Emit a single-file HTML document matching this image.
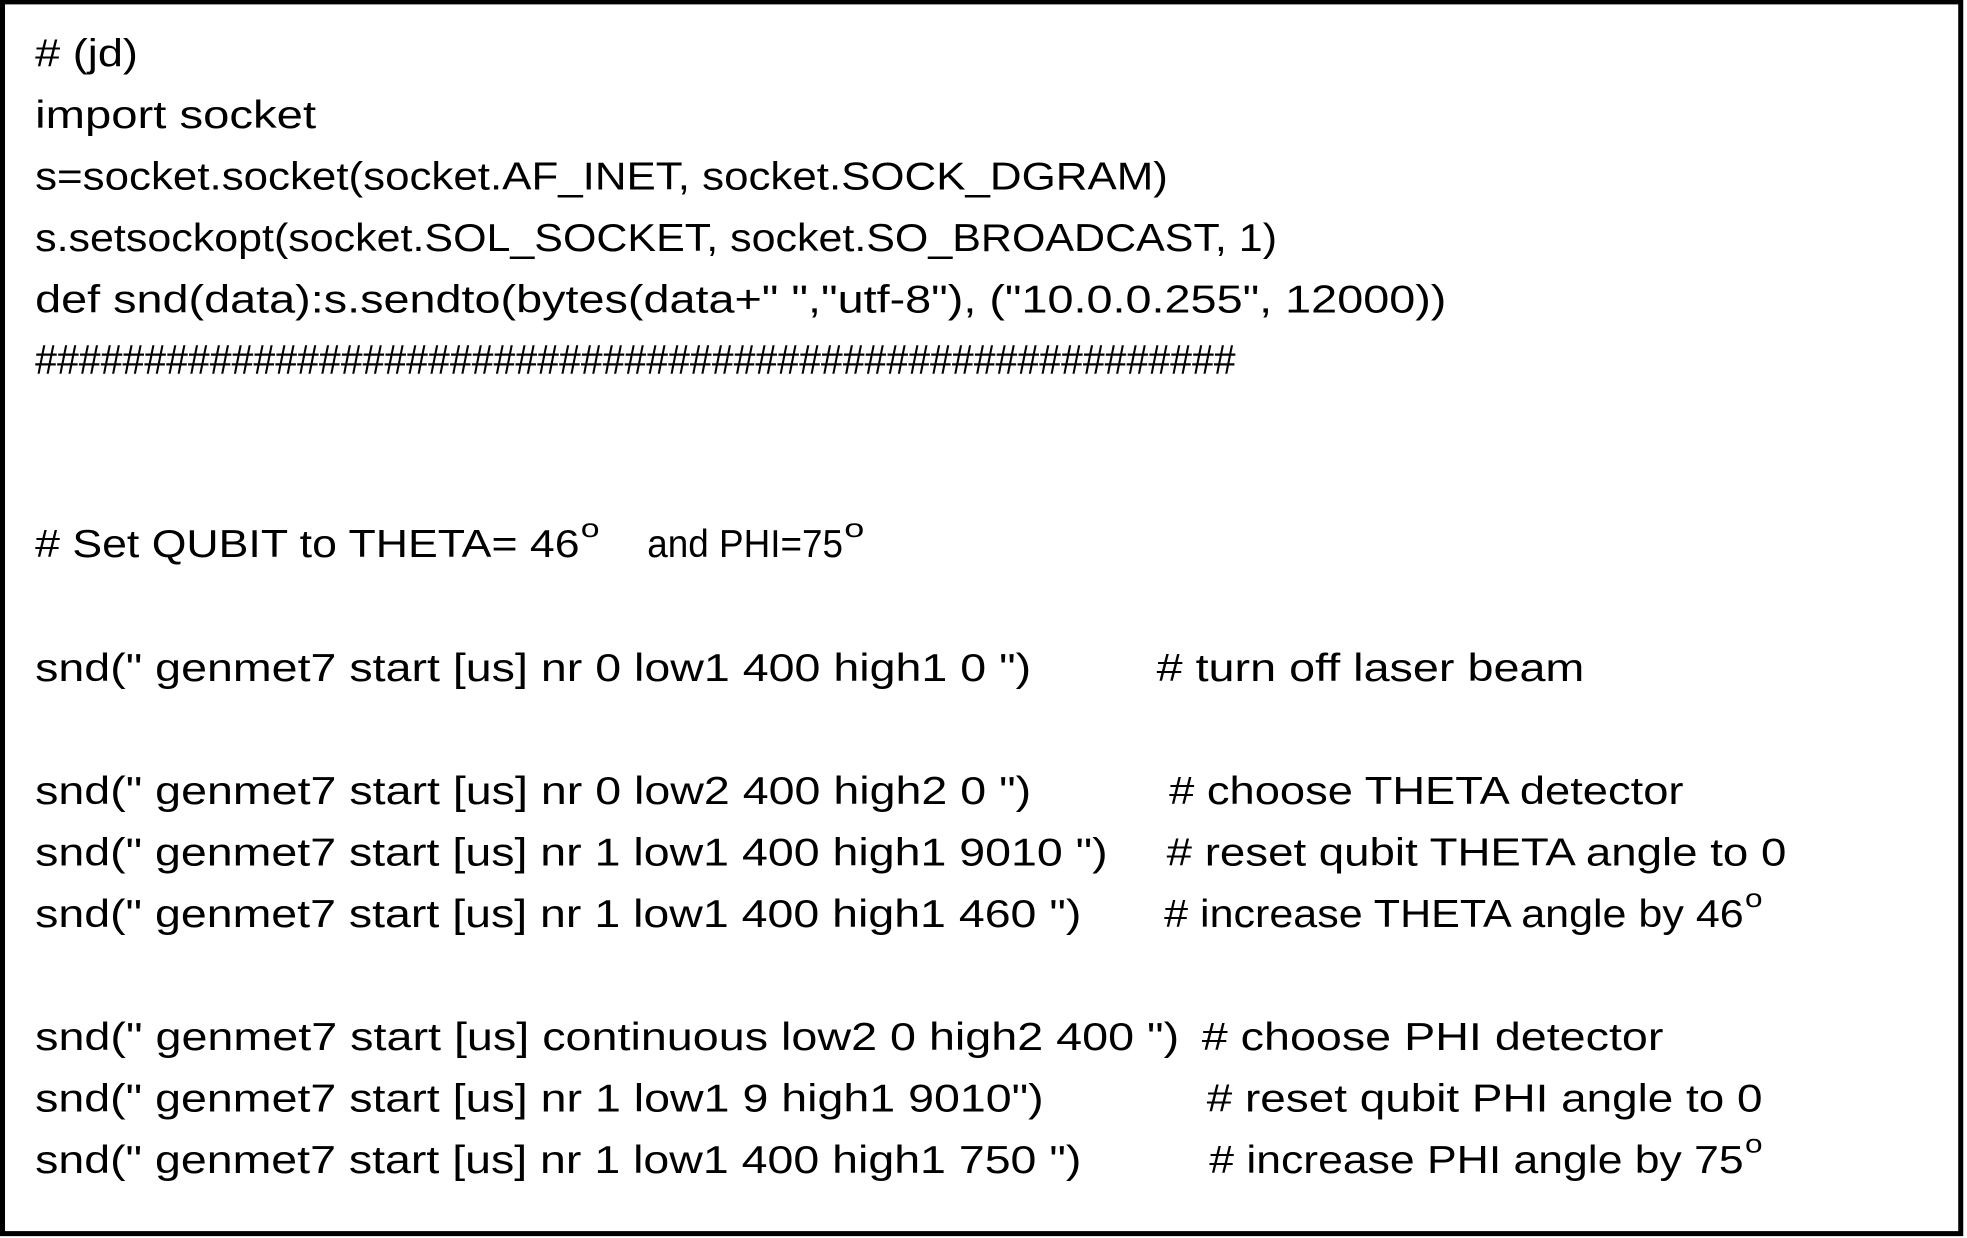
<!DOCTYPE html>
<html><head><meta charset="utf-8"><style>
html,body{margin:0;padding:0;background:#fff;}
svg{display:block;}
text{font-family:"Liberation Sans",sans-serif;font-size:31px;fill:#000;}
.s{font-size:21px;}
</style></head><body>
<svg width="1967" height="1238" viewBox="0 0 1568 987" preserveAspectRatio="none" xmlns="http://www.w3.org/2000/svg">
<rect x="0" y="0" width="1568" height="987" fill="#fff"/>
<rect x="2" y="1.5" width="1561" height="982" fill="none" stroke="#000" stroke-width="4"/>
<g xml:space="preserve">
<text x="28" y="53" textLength="82" lengthAdjust="spacingAndGlyphs"># (jd)</text>
<text x="28" y="102" textLength="224" lengthAdjust="spacingAndGlyphs">import socket</text>
<text x="28" y="151" textLength="903" lengthAdjust="spacingAndGlyphs">s=socket.socket(socket.AF_INET, socket.SOCK_DGRAM)</text>
<text x="28" y="200" textLength="990" lengthAdjust="spacingAndGlyphs">s.setsockopt(socket.SOL_SOCKET, socket.SO_BROADCAST, 1)</text>
<text x="28" y="249" textLength="1125" lengthAdjust="spacingAndGlyphs">def snd(data):s.sendto(bytes(data+"  ","utf-8"), ("10.0.0.255", 12000))</text>
<text x="28" y="298" textLength="957" lengthAdjust="spacingAndGlyphs" style="font-size:33px">#######################################################</text>

<text x="28" y="444" textLength="434" lengthAdjust="spacingAndGlyphs"># Set QUBIT to THETA= 46</text>
<text class="s" x="463" y="428" textLength="15" lengthAdjust="spacingAndGlyphs">o</text>
<text x="516" y="444" textLength="156" lengthAdjust="spacingAndGlyphs">and PHI=75</text>
<text class="s" x="673" y="428" textLength="16" lengthAdjust="spacingAndGlyphs">o</text>

<text x="28" y="543" textLength="794" lengthAdjust="spacingAndGlyphs">snd(" genmet7 start [us] nr 0 low1 400 high1 0 ")</text>
<text x="922" y="543" textLength="341" lengthAdjust="spacingAndGlyphs"># turn off laser beam</text>

<text x="28" y="641" textLength="794" lengthAdjust="spacingAndGlyphs">snd(" genmet7 start [us] nr 0 low2 400 high2 0 ")</text>
<text x="932" y="641" textLength="410" lengthAdjust="spacingAndGlyphs"># choose THETA detector</text>
<text x="28" y="690" textLength="855" lengthAdjust="spacingAndGlyphs">snd(" genmet7 start [us] nr 1 low1 400 high1 9010 ")</text>
<text x="930" y="690" textLength="494" lengthAdjust="spacingAndGlyphs"># reset qubit THETA angle to 0</text>
<text x="28" y="739" textLength="834" lengthAdjust="spacingAndGlyphs">snd(" genmet7 start [us] nr 1 low1 400 high1 460 ")</text>
<text x="928" y="739" textLength="462" lengthAdjust="spacingAndGlyphs"># increase THETA angle by 46</text>
<text class="s" x="1391" y="723" textLength="14" lengthAdjust="spacingAndGlyphs">o</text>

<text x="28" y="837" textLength="912" lengthAdjust="spacingAndGlyphs">snd(" genmet7 start [us] continuous low2 0 high2 400 ")</text>
<text x="958" y="837" textLength="368" lengthAdjust="spacingAndGlyphs">#  choose PHI detector</text>
<text x="28" y="886" textLength="804" lengthAdjust="spacingAndGlyphs">snd(" genmet7 start [us] nr 1 low1 9 high1 9010")</text>
<text x="962" y="886" textLength="443" lengthAdjust="spacingAndGlyphs"># reset qubit PHI angle to 0</text>
<text x="28" y="935" textLength="834" lengthAdjust="spacingAndGlyphs">snd(" genmet7 start [us] nr 1 low1 400 high1 750 ")</text>
<text x="964" y="935" textLength="426" lengthAdjust="spacingAndGlyphs"># increase PHI angle by 75</text>
<text class="s" x="1391" y="919" textLength="14" lengthAdjust="spacingAndGlyphs">o</text>
</g>
</svg>
</body></html>
